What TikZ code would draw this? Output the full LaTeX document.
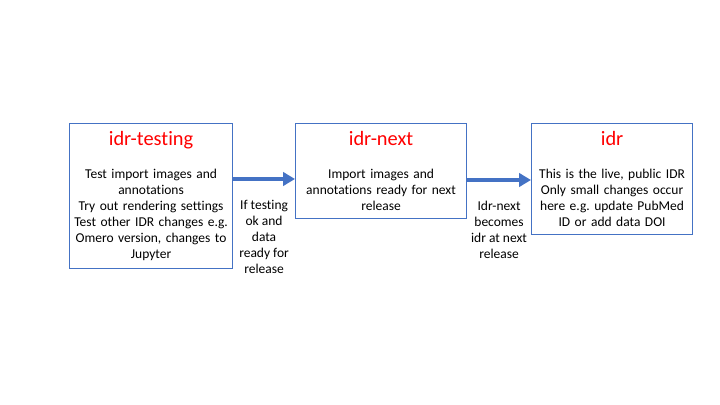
\documentclass[tikz,border=0pt]{standalone}
\usepackage{fontspec}
\setmainfont[Ligatures=NoCommon]{Carlito}
\usepackage{tikz}
\usetikzlibrary{arrows.meta,calc}
\usepackage{xcolor}
\definecolor{accent}{HTML}{4472C4}
\definecolor{stagered}{HTML}{FF0000}
\frenchspacing

\begin{document}
\begin{tikzpicture}[x=0.025cm, y=-0.025cm,
  stage/.style={draw=accent, line width=0.7pt, anchor=north west, align=center,
                inner xsep=2pt, inner ysep=5.5pt, font=\fontsize{9.6}{11.4}\selectfont},
  flow/.style={-{Triangle[length=8.5pt, width=9.5pt]}, line width=2.8pt, accent},
  note/.style={align=center, text=black, font=\fontsize{9.6}{11.4}\selectfont}]
  \useasboundingbox (0,0) rectangle (720,405);
  \node[stage, text width=158*0.709pt] (testing) at (69,123)
    {{\fontsize{14.5}{17}\selectfont\color{stagered}idr-testing}\\[12pt]
     Test import images and\\ annotations\\ Try out rendering settings\\
     Test other IDR changes e.g.\\ Omero version, changes to\\ Jupyter};
  \node[stage, text width=166*0.709pt] (next) at (295,123)
    {{\fontsize{14.5}{17}\selectfont\color{stagered}idr-next}\\[12pt]
     Import images and\\ annotations ready for next\\ release};
  \node[stage, text width=156*0.709pt] (live) at (531,123)
    {{\fontsize{14.5}{17}\selectfont\color{stagered}idr}\\[12pt]
     This is the live, public IDR\\ Only small changes occur\\
     here e.g. update PubMed\\ ID or add data DOI};
  \draw[flow] ($(testing.north east)+(0,56)$) -- ($(next.north west)+(0,56)$)
    node[note, midway, below=10pt] {If testing\\ ok and\\ data\\ ready for\\ release};
  \draw[flow] ($(next.north east)+(0,57)$) -- ($(live.north west)+(0,57)$)
    node[note, midway, below=10pt] {Idr-next\\ becomes\\ idr at next\\ release};
\end{tikzpicture}
\end{document}
